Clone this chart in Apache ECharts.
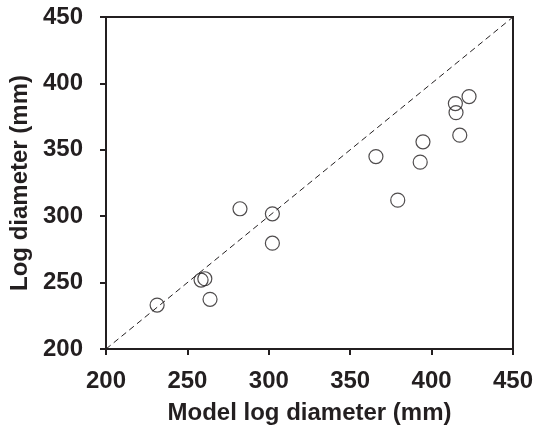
<!DOCTYPE html>
<html>
<head>
<meta charset="utf-8">
<script src="https://cdn.jsdelivr.net/npm/echarts@6/dist/echarts.min.js"></script>
<style>html,body{margin:0;padding:0;background:#fff}#c{width:534px;height:426px}</style>
</head>
<body>
<div id="c"></div>
<script>
const modelLog = [231.4, 258.4, 260.7, 263.9, 282.3, 302.2, 302.2, 365.8, 379.2, 393.0, 394.7, 414.6, 415.0, 417.3, 423.0];
const observedLog = [233.1, 251.9, 252.9, 237.4, 305.6, 301.8, 279.7, 344.9, 312.1, 340.7, 356.0, 384.8, 378.0, 361.0, 390.1];
const oneToOne = [200, 450];
const xTitle = 'Model log diameter (mm)';
const yTitle = 'Log diameter (mm)';

const pts = modelLog.map((x, i) => [x, observedLog[i]]);
const diag = oneToOne.map(v => [v, v]);
const ink = '#231f20';
const font = 'Liberation Sans, Arial, Helvetica, sans-serif';

const axisCommon = {
  type: 'value', min: 200, max: 450, interval: 50,
  splitLine: { show: false },
  axisLine: { show: true, lineStyle: { color: ink, width: 2 } },
  axisTick: { show: true, length: 6, lineStyle: { color: ink, width: 2 } },
  axisLabel: { color: ink, fontSize: 24, fontWeight: 'bold', fontFamily: font },
  nameLocation: 'middle',
  nameTextStyle: { color: ink, fontSize: 24, fontWeight: 'bold', fontFamily: font }
};

const chart = echarts.init(document.getElementById('c'), null, { renderer: 'canvas' });
chart.setOption({
  animation: false,
  backgroundColor: '#fff',
  grid: { left: 106, right: 21, top: 17, bottom: 77, show: true, borderColor: ink, borderWidth: 2,
          containLabel: false, outerBoundsMode: 'none' },
  xAxis: Object.assign({}, axisCommon, {
    name: xTitle, nameGap: 52,
    axisLabel: Object.assign({}, axisCommon.axisLabel, { margin: 20 })
  }),
  yAxis: Object.assign({}, axisCommon, {
    name: yTitle, nameGap: 57,
    axisLabel: Object.assign({}, axisCommon.axisLabel, { margin: 23 })
  }),
  series: [
    {
      type: 'line', data: diag, symbol: 'none', silent: true,
      lineStyle: { color: ink, width: 1, type: [6, 4] }
    },
    {
      type: 'scatter', data: pts, symbol: 'circle', symbolSize: 14,
      itemStyle: { color: 'rgba(0,0,0,0)', borderColor: ink, borderWidth: 1.2 }
    }
  ]
});
</script>
</body>
</html>
